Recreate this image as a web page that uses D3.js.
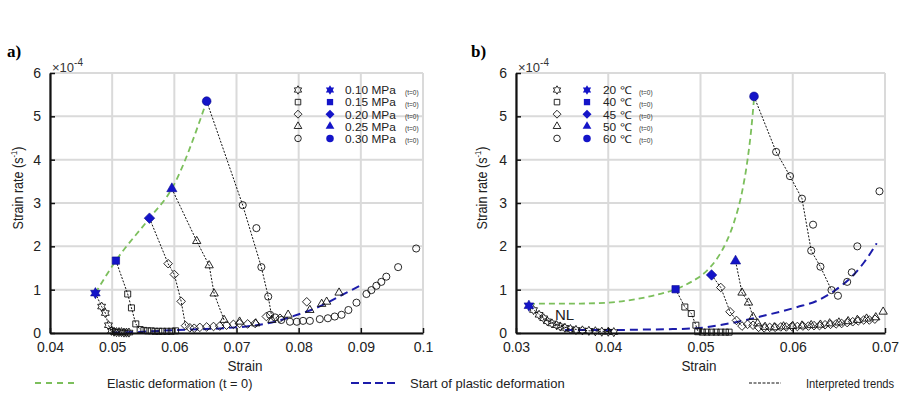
<!DOCTYPE html>
<html>
<head>
<meta charset="utf-8">
<script src="https://cdn.jsdelivr.net/npm/d3@7"></script>
<style>
  body { margin: 0; background: #fff; }
  svg { display: block; font-family: "Liberation Sans", Arial, sans-serif; }
</style>
</head>
<body>
<div id="chart"></div>
<script>
// ---- axes ----
const xTicksA = [0.04, 0.05, 0.06, 0.07, 0.08, 0.09, 0.1];
const xTickLabelsA = ["0.04", "0.05", "0.06", "0.07", "0.08", "0.09", "0.1"];
const xTicksB = [0.03, 0.04, 0.05, 0.06, 0.07];
const xTickLabelsB = ["0.03", "0.04", "0.05", "0.06", "0.07"];
const yTicks = [0, 1, 2, 3, 4, 5, 6];

const pressureLabels = ["0.10 MPa", "0.15 MPa", "0.20 MPa", "0.25 MPa", "0.30 MPa"];
const temperatureLabels = ["20 \u2103", "40 \u2103", "45 \u2103", "50 \u2103", "60 \u2103"];
const markerShapes = ["hexagram", "square", "diamond", "triangle", "circle"];

// ---- panel a (pressure), strain rate in 1e-4 s^-1 ----
const startA = [[0.0473, 0.92], [0.0506, 1.67], [0.0560, 2.65], [0.0596, 3.33], [0.0652, 5.35]];
const p010 = [[0.0483, 0.61], [0.0489, 0.46], [0.0494, 0.18], [0.0499, 0.05], [0.0503, 0.03], [0.0507, 0.02],
  [0.0511, 0.02], [0.0515, 0.02], [0.0519, 0.01], [0.0523, 0.01], [0.0527, 0.01]];
const p015 = [[0.0525, 0.90], [0.0531, 0.58], [0.0538, 0.21], [0.0545, 0.08], [0.0551, 0.06], [0.0557, 0.05],
  [0.0563, 0.05], [0.0569, 0.04], [0.0575, 0.04], [0.0581, 0.04], [0.0588, 0.04], [0.0595, 0.04], [0.0602, 0.05]];
const p020 = [[0.0590, 1.60], [0.0600, 1.35], [0.0611, 0.73], [0.0618, 0.17], [0.0625, 0.12], [0.0632, 0.11],
  [0.0641, 0.13], [0.0652, 0.14], [0.0663, 0.15], [0.0673, 0.16], [0.0684, 0.18], [0.0695, 0.20],
  [0.0705, 0.22], [0.0718, 0.21], [0.0730, 0.22], [0.0748, 0.38], [0.0770, 0.34], [0.0813, 0.72]];
const p025 = [[0.0636, 2.12], [0.0656, 1.56], [0.0664, 0.91], [0.0680, 0.30], [0.0705, 0.26], [0.0731, 0.22],
  [0.0757, 0.30], [0.0783, 0.42], [0.0818, 0.53], [0.0837, 0.67], [0.0845, 0.72], [0.0865, 0.93]];
const p030 = [[0.0710, 2.95], [0.0732, 2.42], [0.0740, 1.52], [0.0751, 0.84], [0.0754, 0.42], [0.0762, 0.36],
  [0.0772, 0.30], [0.0786, 0.26], [0.0797, 0.26], [0.0807, 0.28], [0.0818, 0.28], [0.0834, 0.32],
  [0.0847, 0.34], [0.0858, 0.38], [0.0869, 0.42], [0.0880, 0.53], [0.0893, 0.70], [0.0909, 0.90],
  [0.0917, 0.99], [0.0925, 1.09], [0.0933, 1.18], [0.0941, 1.30], [0.0960, 1.52], [0.0989, 1.95]];
const trendsA = [
  [[0.0473, 0.92], [0.0483, 0.61], [0.0489, 0.46], [0.0494, 0.18], [0.0499, 0.05]],
  [[0.0506, 1.67], [0.0525, 0.90], [0.0531, 0.58], [0.0538, 0.21], [0.0545, 0.08]],
  [[0.0560, 2.65], [0.0590, 1.60], [0.0600, 1.35], [0.0611, 0.73], [0.0618, 0.17]],
  [[0.0596, 3.33], [0.0636, 2.12], [0.0656, 1.56], [0.0664, 0.91], [0.0680, 0.30]],
  [[0.0652, 5.35], [0.0710, 2.95], [0.0740, 1.52], [0.0751, 0.84], [0.0757, 0.35]]
];
const elasticA = [[0.0473, 0.92], [0.0506, 1.67], [0.0560, 2.65], [0.0596, 3.33], [0.0652, 5.35]];
const plasticA = [[0.0500, 0.01], [0.0550, 0.03], [0.0604, 0.07], [0.0650, 0.09], [0.0679, 0.11],
  [0.0732, 0.18], [0.0765, 0.27], [0.0791, 0.39], [0.0820, 0.53], [0.0845, 0.69], [0.0870, 0.88], [0.0900, 1.10]];

// ---- panel b (temperature) ----
const startB = [[0.0314, 0.63], [0.0473, 1.01], [0.0512, 1.34], [0.0538, 1.66], [0.0558, 5.46]];
const t20 = [[0.0319, 0.53], [0.0325, 0.42], [0.0330, 0.34], [0.0334, 0.27], [0.0339, 0.22], [0.0344, 0.18],
  [0.0348, 0.15], [0.0353, 0.12], [0.0359, 0.09], [0.0365, 0.07], [0.0372, 0.06], [0.0379, 0.05],
  [0.0386, 0.04], [0.0393, 0.03], [0.0400, 0.03], [0.0406, 0.02]];
const t40 = [[0.0483, 0.60], [0.0490, 0.45], [0.0495, 0.18], [0.0497, 0.03], [0.0502, 0.02], [0.0507, 0.02],
  [0.0512, 0.02], [0.0517, 0.02], [0.0522, 0.02], [0.0527, 0.02], [0.0531, 0.02]];
const t45 = [[0.0522, 1.05], [0.0532, 0.49], [0.0539, 0.29], [0.0545, 0.16], [0.0551, 0.20], [0.0557, 0.18],
  [0.0563, 0.13], [0.0569, 0.12], [0.0575, 0.13], [0.0581, 0.13], [0.0587, 0.14], [0.0593, 0.14],
  [0.0599, 0.15], [0.0605, 0.15], [0.0611, 0.16], [0.0617, 0.16], [0.0623, 0.17], [0.0629, 0.17],
  [0.0635, 0.19], [0.0641, 0.20], [0.0647, 0.21], [0.0653, 0.22], [0.0659, 0.24], [0.0665, 0.26],
  [0.0671, 0.28], [0.0677, 0.30], [0.0683, 0.30], [0.0689, 0.32]];
const t50 = [[0.0545, 0.93], [0.0552, 0.70], [0.0557, 0.37], [0.0562, 0.22], [0.0570, 0.14], [0.0580, 0.13],
  [0.0590, 0.15], [0.0600, 0.16], [0.0610, 0.17], [0.0620, 0.18], [0.0630, 0.19], [0.0640, 0.22],
  [0.0650, 0.24], [0.0660, 0.27], [0.0670, 0.30], [0.0680, 0.33], [0.0690, 0.36], [0.0698, 0.49]];
const t60 = [[0.0582, 4.18], [0.0597, 3.62], [0.0610, 3.10], [0.0622, 2.50], [0.0620, 1.90], [0.0630, 1.53],
  [0.0642, 0.99], [0.0649, 0.86], [0.0659, 1.18], [0.0664, 1.40], [0.0670, 2.00], [0.0694, 3.27]];
const trendsB = [
  [[0.0314, 0.63], [0.0320, 0.52], [0.0330, 0.34], [0.0344, 0.19], [0.0358, 0.10], [0.0380, 0.05], [0.0405, 0.03]],
  [[0.0473, 1.01], [0.0483, 0.60], [0.0490, 0.45], [0.0495, 0.18], [0.0497, 0.04]],
  [[0.0512, 1.34], [0.0522, 1.05], [0.0532, 0.49], [0.0539, 0.29], [0.0545, 0.16]],
  [[0.0538, 1.66], [0.0545, 0.93], [0.0552, 0.70], [0.0557, 0.37]],
  [[0.0558, 5.46], [0.0582, 4.18], [0.0597, 3.62], [0.0610, 3.10], [0.0620, 1.90], [0.0630, 1.53], [0.0642, 0.99]]
];
const elasticB = [[0.0314, 0.67], [0.0340, 0.68], [0.0370, 0.68], [0.0390, 0.69], [0.0410, 0.72], [0.0430, 0.78],
  [0.0450, 0.87], [0.0473, 1.01], [0.0490, 1.18], [0.0505, 1.40], [0.0518, 1.72], [0.0528, 2.10],
  [0.0537, 2.60], [0.0545, 3.25], [0.0551, 4.00], [0.0555, 4.70], [0.0558, 5.40]];
const plasticB = [[0.0353, 0.07], [0.0380, 0.07], [0.0410, 0.07], [0.0440, 0.08], [0.0470, 0.09], [0.0496, 0.11],
  [0.0520, 0.18], [0.0543, 0.27], [0.0565, 0.38], [0.0586, 0.49], [0.0605, 0.60], [0.0626, 0.74],
  [0.0640, 0.90], [0.0652, 1.08], [0.0665, 1.32], [0.0678, 1.65], [0.0691, 2.07]];

// ---- styling ----
const blue = "#1414c8";
const plasticColor = "#1c1caa";
const elasticColor = "#7cbf5c";
const gridColor = "#dadada";

const symbolHexagram = {
  draw(ctx, size) {
    const R = Math.sqrt(size) * 0.78, r = R / Math.sqrt(3);
    for (let i = 0; i < 12; i++) {
      const a = Math.PI / 2 + i * Math.PI / 6;
      const rad = i % 2 ? r : R;
      const px = rad * Math.cos(a), py = -rad * Math.sin(a);
      if (i) ctx.lineTo(px, py); else ctx.moveTo(px, py);
    }
    ctx.closePath();
  }
};
const symbolDiamondSq = {
  draw(ctx, size) {
    const r = Math.sqrt(size) * 0.68;
    ctx.moveTo(0, -r); ctx.lineTo(r, 0); ctx.lineTo(0, r); ctx.lineTo(-r, 0); ctx.closePath();
  }
};
const shapeTypes = {
  hexagram: symbolHexagram,
  square: d3.symbolSquare,
  diamond: symbolDiamondSq,
  triangle: d3.symbolTriangle,
  circle: d3.symbolCircle
};
const openSize = { hexagram: 34, square: 36, diamond: 40, triangle: 30, circle: 40 };

const width = 902, height = 394;
const svg = d3.select("#chart").append("svg")
  .attr("width", width)
  .attr("height", height);

function marker(shape, scale) {
  return d3.symbol().type(shapeTypes[shape]).size(openSize[shape] * scale);
}

function drawPanel(p) {
  const x = d3.scaleLinear().domain(p.xDomain).range([p.left, p.right]);
  const y = d3.scaleLinear().domain([0, 6]).range([333, 73]);
  const g = svg.append("g");

  // grid
  g.append("g").selectAll("line").data(p.xTicks).join("line")
    .attr("x1", d => x(d)).attr("x2", d => x(d))
    .attr("y1", y(0)).attr("y2", y(6))
    .attr("stroke", gridColor).attr("stroke-width", 2);
  g.append("g").selectAll("line").data(yTicks).join("line")
    .attr("x1", x.range()[0]).attr("x2", x.range()[1])
    .attr("y1", d => y(d)).attr("y2", d => y(d))
    .attr("stroke", gridColor).attr("stroke-width", 2);

  const line = d3.line().x(d => x(d[0])).y(d => y(d[1]));
  const smooth = d3.line().x(d => x(d[0])).y(d => y(d[1])).curve(d3.curveMonotoneX);

  // elastic + plastic reference curves
  g.append("path").datum(p.elastic)
    .attr("d", smooth).attr("fill", "none")
    .attr("stroke", elasticColor).attr("stroke-width", 1.8).attr("stroke-dasharray", "6,4");
  g.append("path").datum(p.plastic)
    .attr("d", smooth).attr("fill", "none")
    .attr("stroke", plasticColor).attr("stroke-width", 2).attr("stroke-dasharray", "8,5");

  // interpreted trends
  g.append("g").selectAll("path").data(p.trends).join("path")
    .attr("d", line).attr("fill", "none")
    .attr("stroke", "#111").attr("stroke-width", 1).attr("stroke-dasharray", "2,1.5");

  // measured points (open black)
  p.series.forEach((pts, i) => {
    const shape = markerShapes[i];
    g.append("g").selectAll("path").data(pts).join("path")
      .attr("transform", d => `translate(${x(d[0])},${y(d[1])})`)
      .attr("d", marker(shape, 1))
      .attr("fill", "none").attr("stroke", "#111").attr("stroke-width", 0.9);
  });

  // t = 0 points (filled blue)
  g.append("g").selectAll("path").data(p.start).join("path")
    .attr("transform", d => `translate(${x(d[0])},${y(d[1])})`)
    .attr("d", (d, i) => marker(markerShapes[i], 1.5)())
    .attr("fill", blue).attr("stroke", "#0a0a90").attr("stroke-width", 0.6);

  // axes
  const xAxis = d3.axisBottom(x).tickValues(p.xTicks)
    .tickFormat((d, i) => p.xTickLabels[i])
    .tickSizeInner(-5).tickSizeOuter(0).tickPadding(9);
  const gx = g.append("g").attr("transform", `translate(0,${y(0)})`).call(xAxis);
  const yAxis = d3.axisLeft(y).tickValues(yTicks).tickFormat(d3.format("d"))
    .tickSizeInner(-5).tickSizeOuter(0).tickPadding(9);
  const gy = g.append("g").attr("transform", `translate(${x.range()[0]},0)`).call(yAxis);
  [gx, gy].forEach(a => {
    a.select(".domain").attr("stroke", "#111").attr("stroke-width", 2.2);
    a.selectAll(".tick line").attr("stroke", "#111").attr("stroke-width", 1.5);
    a.selectAll("text").attr("fill", "#222").style("font-size", "14px")
      .style("font-family", "'Liberation Sans', Arial, sans-serif");
  });

  // exponent label
  const ex = g.append("text").attr("x", x.range()[0] + 2).attr("y", 72)
    .attr("fill", "#333").style("font-size", "13px");
  ex.append("tspan").text("\u00d710");
  ex.append("tspan").attr("dy", -6).style("font-size", "10px").text("-4");

  // y label (slightly condensed like the original)
  const yl = g.append("text")
    .attr("transform", `translate(${p.yLabelX},188) rotate(-90) scale(0.84,1)`)
    .attr("text-anchor", "middle").attr("fill", "#222").style("font-size", "15px");
  yl.append("tspan").text("Strain rate (s");
  yl.append("tspan").attr("dy", -6).style("font-size", "9px").text("-1");
  yl.append("tspan").attr("dy", 6).text(")");

  // x label
  g.append("text").attr("x", p.xLabelX).attr("y", 371)
    .attr("text-anchor", "middle").attr("fill", "#222").style("font-size", "15px")
    .attr("transform", `translate(${p.xLabelX},0) scale(0.9,1) translate(${-p.xLabelX},0)`)
    .text("Strain");

  // panel letter
  g.append("text").attr("x", p.letterX).attr("y", 57)
    .style("font-family", "'Liberation Serif', 'Times New Roman', serif")
    .style("font-weight", "bold").style("font-size", "17px")
    .text(p.letter);

  // inner legend
  const lg = g.append("g");
  p.legendLabels.forEach((lab, i) => {
    const ly = 90 + i * 12.1;
    lg.append("path").attr("transform", `translate(${p.legendX[0]},${ly})`)
      .attr("d", marker(markerShapes[i], 0.85)())
      .attr("fill", "none").attr("stroke", "#111").attr("stroke-width", 0.9);
    lg.append("path").attr("transform", `translate(${p.legendX[1]},${ly})`)
      .attr("d", marker(markerShapes[i], 1.1)())
      .attr("fill", blue);
    lg.append("text").attr("x", 0).attr("y", 0)
      .attr("transform", `translate(${p.legendX[2]},${ly + 4.3}) scale(1.1,1)`)
      .attr("fill", "#222").style("font-size", "10.8px").text(lab);
    lg.append("text").attr("x", p.legendX[3]).attr("y", ly + 5)
      .attr("fill", "#333").style("font-size", "6.5px").text("(t=0)");
  });

  if (p.note) {
    g.append("text").attr("x", p.note[0]).attr("y", p.note[1])
      .attr("fill", "#222").style("font-size", "15px").text(p.note[2]);
  }
}

drawPanel({
  letter: "a)", letterX: 7,
  left: 50, right: 423, xDomain: [0.04, 0.1],
  xTicks: xTicksA, xTickLabels: xTickLabelsA,
  start: startA, series: [p010, p015, p020, p025, p030],
  trends: trendsA, elastic: elasticA, plastic: plasticA,
  legendLabels: pressureLabels, legendX: [298, 330, 345, 405],
  yLabelX: 23, xLabelX: 245
});

drawPanel({
  letter: "b)", letterX: 471,
  left: 516, right: 885, xDomain: [0.03, 0.07],
  xTicks: xTicksB, xTickLabels: xTickLabelsB,
  start: startB, series: [t20, t40, t45, t50, t60],
  trends: trendsB, elastic: elasticB, plastic: plasticB,
  legendLabels: temperatureLabels, legendX: [557, 587, 603, 639],
  yLabelX: 487, xLabelX: 699,
  note: [555, 320, "NL"]
});

// ---- bottom legend ----
const bottomLegend = [
  { x1: 35, x2: 76, color: elasticColor, dash: "6,5", w: 1.8, tx: 107, sx: 0.98, label: "Elastic deformation (t = 0)" },
  { x1: 351, x2: 399, color: plasticColor, dash: "8,4", w: 2.2, tx: 410, sx: 1, label: "Start of plastic deformation" },
  { x1: 749, x2: 781, color: "#111", dash: "3,1.5", w: 1, tx: 806, sx: 0.86, label: "Interpreted trends" }
];
const bl = svg.append("g");
bottomLegend.forEach(d => {
  bl.append("line").attr("x1", d.x1).attr("x2", d.x2).attr("y1", 383).attr("y2", 383)
    .attr("stroke", d.color).attr("stroke-width", d.w).attr("stroke-dasharray", d.dash);
  bl.append("text").attr("x", 0).attr("y", 0)
    .attr("transform", `translate(${d.tx},388) scale(${d.sx},1)`)
    .attr("fill", "#222").style("font-size", "13px").text(d.label);
});
</script>
</body>
</html>
